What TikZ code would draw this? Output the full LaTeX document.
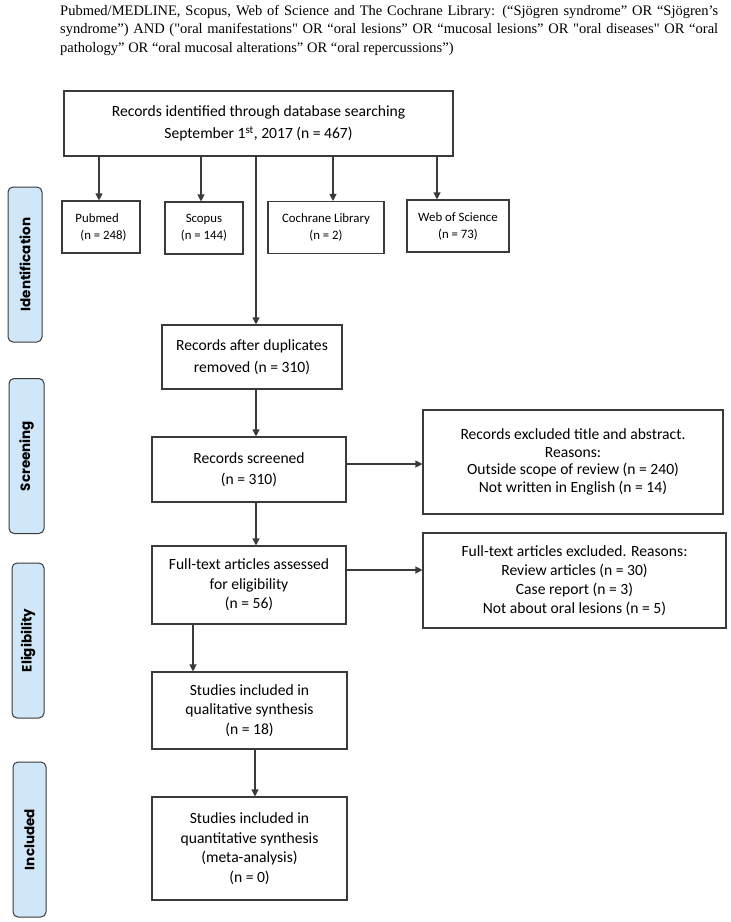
\documentclass[tikz,border=0pt]{standalone}
\usepackage{fontspec}
\setmainfont{Carlito}
\newfontfamily\queryfont{Liberation Serif}
\newfontfamily\labfont{Poppins}
\usetikzlibrary{arrows.meta}
\definecolor{sideblue}{HTML}{CFE7F8}
\definecolor{edge}{HTML}{3A3A3A}
\begin{document}
\begin{tikzpicture}[x=1pt,y=-1pt,
  box/.style={draw=edge, line width=1.1pt, align=center, inner sep=2pt,
    font=\fontsize{15.6}{19.5}\selectfont},
  smallbox/.style={box, minimum height=52pt, font=\fontsize{12.8}{17}\selectfont},
  side/.style={draw=edge, fill=sideblue, rounded corners=5pt, line width=1pt,
    rotate=90, minimum width=155pt, inner sep=0pt,
    font=\labfont\bfseries\fontsize{13.5}{16}\selectfont},
  arr/.style={draw=edge, line width=1.1pt, -{Triangle[length=7pt,width=7pt]}}
]
\useasboundingbox (0,0) rectangle (731,922);

\node[anchor=north west, text width=658pt, align=justify, inner sep=0pt,
  font=\queryfont\fontsize{14.5}{18.5}\selectfont] (query) at (60,5)
  {Pubmed/MEDLINE, Scopus, Web of Science and The Cochrane Library: (“Sjögren syndrome” OR “Sjögren’s\linebreak
   syndrome”) AND ("oral manifestations" OR “oral lesions” OR “mucosal lesions” OR "oral diseases" OR “oral\linebreak
   pathology” OR “oral mucosal alterations” OR “oral repercussions”)};

% phase labels
\node[side, minimum height=34pt] (ident) at (25,264.5) {Identification};
\node[side, minimum height=35pt] (screen) at (26.5,456) {Screening};
\node[side, minimum height=32pt] (elig) at (28,640.5) {Eligibility};
\node[side, minimum height=33pt] (incl) at (29.5,839.5) {Included};

% boxes
\node[box, minimum width=389pt, minimum height=65pt, font=\fontsize{15.6}{22}\selectfont] (top) at (258.5,123.5)
  {Records identified through database searching\\September 1\textsuperscript{st}, 2017 (n = 467)};
\node[smallbox, minimum width=78pt, align=left] (pubmed) at (101,227) {Pubmed\\\hspace*{5pt}(n = 248)};
\node[smallbox, minimum width=78pt] (scopus) at (204,228) {Scopus\\(n = 144)};
\node[smallbox, minimum width=116pt] (cochrane) at (326,227.5) {Cochrane Library\\(n = 2)};
\node[smallbox, minimum width=102pt] (wos) at (458,226) {Web of Science\\(n = 73)};

\node[box, minimum width=180pt, minimum height=64pt, font=\fontsize{15.6}{22}\selectfont] (afterdup) at (252,357)
  {Records after duplicates\\removed (n = 310)};
\node[box, minimum width=194pt, minimum height=65pt, font=\fontsize{15.6}{21}\selectfont] (screened) at (249,469.5)
  {Records screened\\(n = 310)};
\node[box, minimum width=300pt, minimum height=104pt, font=\fontsize{15.6}{17.5}\selectfont] (excl1) at (573,462)
  {Records excluded title and abstract.\\Reasons:\\Outside scope of review (n = 240)\\Not written in English (n = 14)};
\node[box, minimum width=194pt, minimum height=78pt] (fulltext) at (249,585)
  {Full-text articles assessed\\for eligibility\\(n = 56)};
\node[box, minimum width=303pt, minimum height=95pt, font=\fontsize{15.6}{19}\selectfont] (excl2) at (574.5,580.5)
  {Full-text articles excluded. Reasons:\\Review articles (n = 30)\\Case report (n = 3)\\Not about oral lesions (n = 5)};
\node[box, minimum width=195pt, minimum height=77pt] (studies1) at (249.5,710.5)
  {Studies included in\\qualitative synthesis\\(n = 18)};
\node[box, minimum width=195pt, minimum height=103pt] (studies2) at (249.5,848.5)
  {Studies included in\\quantitative synthesis\\(meta-analysis)\\(n = 0)};

% connectors
\draw[arr] ([xshift=-2pt]pubmed.north |- top.south) -- ([xshift=-2pt]pubmed.north);
\draw[arr] ([xshift=-3pt]scopus.north |- top.south) -- ([xshift=-3pt]scopus.north);
\draw[arr] ([xshift=7pt]cochrane.north |- top.south) -- ([xshift=7pt]cochrane.north);
\draw[arr] ([xshift=-21pt]wos.north |- top.south) -- ([xshift=-21pt]wos.north);
\draw[arr] ([xshift=4pt]afterdup.north |- top.south) -- ([xshift=4pt]afterdup.north);
\draw[arr] ([xshift=4pt]afterdup.south) -- ([xshift=4pt]afterdup.south |- screened.north);
\draw[arr] ([yshift=5.5pt]screened.east) -- ([yshift=5.5pt]screened.east -| excl1.west);
\draw[arr] ([xshift=7pt]screened.south) -- ([xshift=7pt]screened.south |- fulltext.north);
\draw[arr] ([yshift=15pt]fulltext.east) -- ([yshift=15pt]fulltext.east -| excl2.west);
\draw[arr] ([xshift=-56pt]fulltext.south) -- ([xshift=-56pt]fulltext.south |- studies1.north);
\draw[arr] ([xshift=5.5pt]studies1.south) -- ([xshift=5.5pt]studies1.south |- studies2.north);
\end{tikzpicture}
\end{document}
